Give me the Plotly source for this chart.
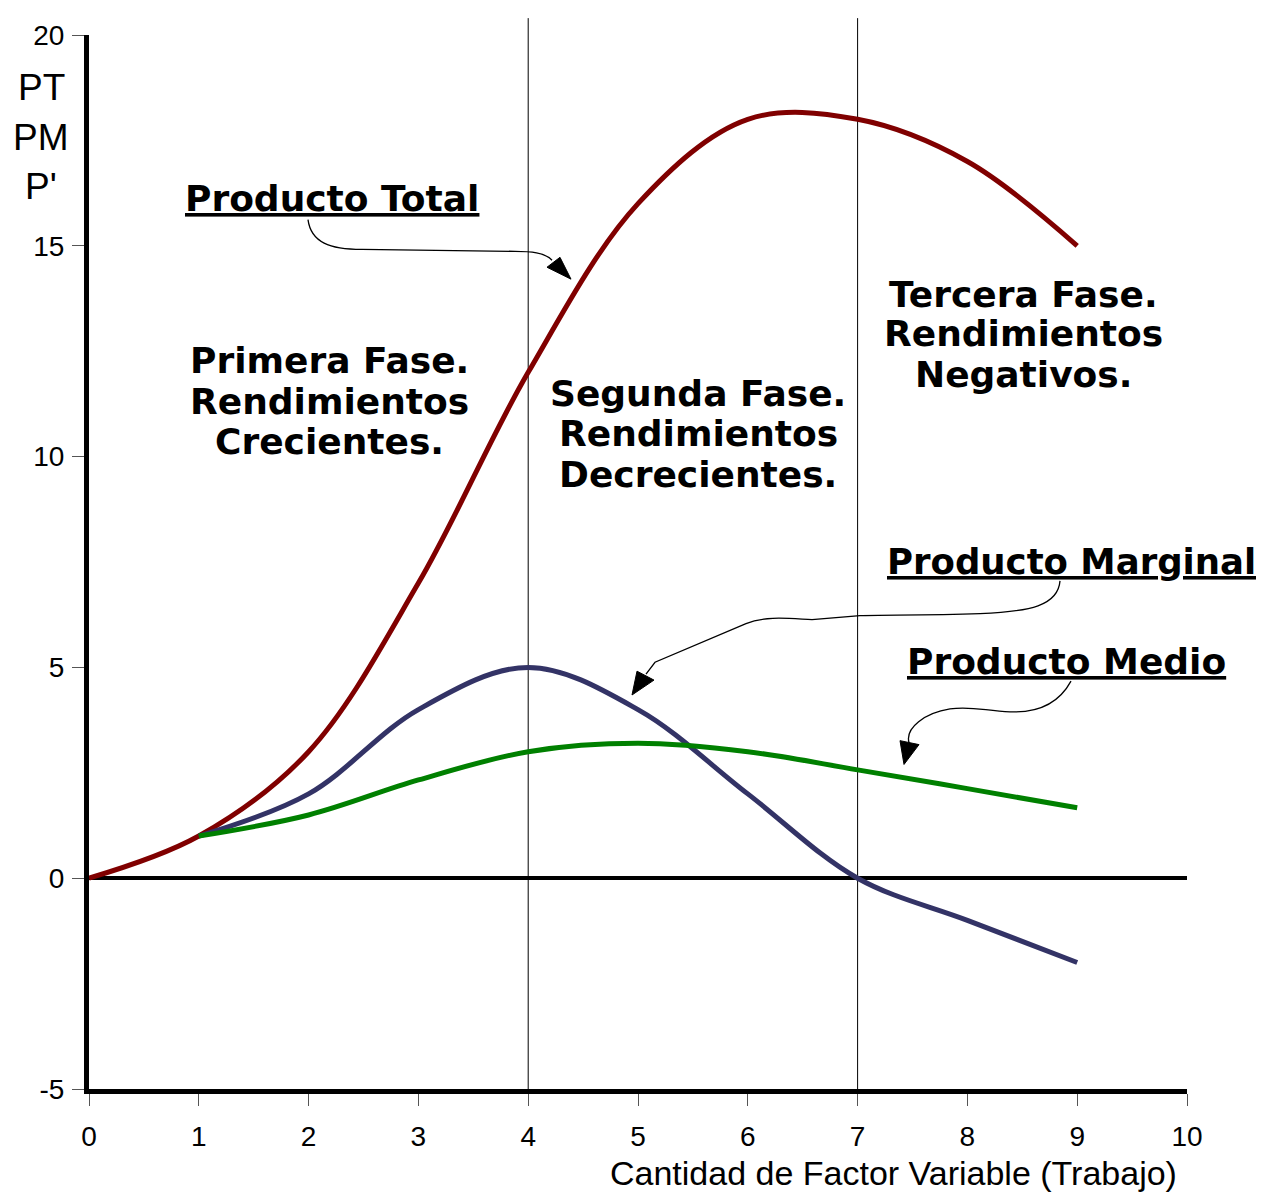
import plotly.graph_objects as go

# ---- data ----
x_total = [0, 1, 2, 3, 4, 5, 6, 7, 8, 9]
producto_total = [0, 1, 3, 7, 12, 16, 18, 18, 17, 15]
x_pm = [1, 2, 3, 4, 5, 6, 7, 8, 9]
producto_marginal = [1, 2, 4, 5, 4, 2, 0, -1, -2]
producto_medio = [1, 1.5, 2.33, 3, 3.2, 3, 2.57, 2.125, 1.67]
x_ticks = [0, 1, 2, 3, 4, 5, 6, 7, 8, 9, 10]
y_ticks = [-5, 0, 5, 10, 15, 20]
phase_limits = [4, 7]

# ---- geometry (page pixels; the page body adds an 8px offset) ----
OFF = 8
W, H = 1264 - OFF, 1195 - OFF
L_PAGE, T_PAGE, R_PAGE, B_PAGE = 89, 27, 1187, 1089
PW, PH = R_PAGE - L_PAGE, B_PAGE - T_PAGE


def px(x):
    return (x - L_PAGE) / PW


def py(y):
    return (B_PAGE - y) / PH


def path(points, cmds):
    out = []
    i = 0
    for c in cmds:
        n = {"M": 1, "L": 1, "C": 3}[c]
        seg = " ".join(f"{px(points[i + k][0]):.5f},{py(points[i + k][1]):.5f}" for k in range(n))
        out.append(f"{c} {seg}")
        i += n
    return " ".join(out)


fig = go.Figure()
fig.add_trace(go.Scatter(x=x_total, y=producto_total, mode="lines",
                         line=dict(color="#800000", width=5, shape="spline", smoothing=1),
                         showlegend=False, cliponaxis=False))
fig.add_trace(go.Scatter(x=x_pm, y=producto_marginal, mode="lines",
                         line=dict(color="#333366", width=5, shape="spline", smoothing=1),
                         showlegend=False, cliponaxis=False))
fig.add_trace(go.Scatter(x=x_pm, y=producto_medio, mode="lines",
                         line=dict(color="#008000", width=5, shape="spline", smoothing=1),
                         showlegend=False, cliponaxis=False))

shapes = []
for xl in phase_limits:
    shapes.append(dict(type="line", xref="x", yref="paper", x0=xl, x1=xl, y0=0, y1=py(10),
                       line=dict(color="black", width=1), layer="below"))

arrow_line = dict(color="black", width=1.3)
# Producto Total connector
shapes.append(dict(type="path", xref="paper", yref="paper", line=arrow_line,
                   path=path([(308, 213), (311, 236), (330, 243), (362, 243), (515, 245),
                              (530, 245), (545, 246), (552, 254)], "MCLC")))
shapes.append(dict(type="path", xref="paper", yref="paper", fillcolor="black",
                   line=dict(color="black", width=1),
                   path=path([(547, 261), (560, 251), (571, 273)], "MLL") + " Z"))
# Producto Marginal connector
shapes.append(dict(type="path", xref="paper", yref="paper", line=arrow_line,
                   path=path([(1060, 577), (1058, 602), (1030, 608), (980, 610),
                              (925, 612), (880, 611), (860, 612), (812, 616),
                              (790, 615), (765, 612), (746, 620), (655, 659), (646, 671)],
                             "MCCLCLL")))
shapes.append(dict(type="path", xref="paper", yref="paper", fillcolor="black",
                   line=dict(color="black", width=1),
                   path=path([(637, 668), (654, 677), (632, 692)], "MLL") + " Z"))
# Producto Medio connector
shapes.append(dict(type="path", xref="paper", yref="paper", line=arrow_line,
                   path=path([(1071, 678), (1058, 702), (1035, 710), (1010, 709),
                              (985, 708), (972, 703), (950, 706),
                              (925, 710), (905, 725), (909, 740)], "MCCC")))
shapes.append(dict(type="path", xref="paper", yref="paper", fillcolor="black",
                   line=dict(color="black", width=1),
                   path=path([(900, 738), (919, 742), (904, 762)], "MLL") + " Z"))

bold_font = dict(family="DejaVu Sans", size=36, color="black")
ann = []


def text(s, x, y, font=bold_font, xanchor="center"):
    ann.append(dict(text=s, x=px(x), y=py(y), xref="paper", yref="paper", showarrow=False,
                    xanchor=xanchor, yanchor="middle", font=font))


text("<b><u>Producto Total</u></b>", 332, 192)
text("<b><u>Producto Marginal</u></b>", 1071, 557,
     font=dict(family="DejaVu Sans", size=35.5, color="black"))
text("<b><u>Producto Medio</u></b>", 1066, 658)
for s, y in [("Primera Fase.", 355), ("Rendimientos", 396), ("Crecientes.", 437)]:
    text(f"<b>{s}</b>", 329, y)
for s, y in [("Segunda Fase.", 388), ("Rendimientos", 429), ("Decrecientes.", 470)]:
    text(f"<b>{s}</b>", 698, y)
for s, y in [("Tercera Fase.", 288), ("Rendimientos", 328), ("Negativos.", 369)]:
    text(f"<b>{s}</b>", 1023, y)

label_font = dict(family="Liberation Sans, Arial", size=37, color="black")
for s, y in [("PT", 80), ("PM", 130), ("P'", 180)]:
    text(s, 41, y, font=label_font)

sans = "Liberation Sans, Arial"
text("Cantidad de Factor Variable (Trabajo)", 1179, 1174,
     font=dict(family=sans, size=34, color="black"), xanchor="right")

fig.update_layout(
    width=W, height=H,
    margin=dict(l=L_PAGE - OFF, r=W - (R_PAGE - OFF), t=T_PAGE - OFF, b=H - (B_PAGE - OFF)),
    paper_bgcolor="white", plot_bgcolor="white",
    shapes=shapes, annotations=ann,
    xaxis=dict(range=[0, 10], tickvals=x_ticks, ticktext=[str(v) for v in x_ticks],
               showgrid=False, zeroline=False, showline=True, linecolor="black", linewidth=5,
               ticks="outside", ticklen=12, tickwidth=1, tickcolor="#555555",
               ticklabelstandoff=6,
               tickfont=dict(family=sans, size=28, color="black")),
    yaxis=dict(range=[-5, 20], tickvals=y_ticks, ticktext=[str(v) for v in y_ticks],
               showgrid=False, zeroline=True, zerolinecolor="black", zerolinewidth=4,
               showline=True, linecolor="black", linewidth=5,
               ticks="outside", ticklen=12, tickwidth=1, tickcolor="#555555",
               ticklabelstandoff=2,
               tickfont=dict(family=sans, size=28, color="black")),
)

fig.write_html("out.html")
